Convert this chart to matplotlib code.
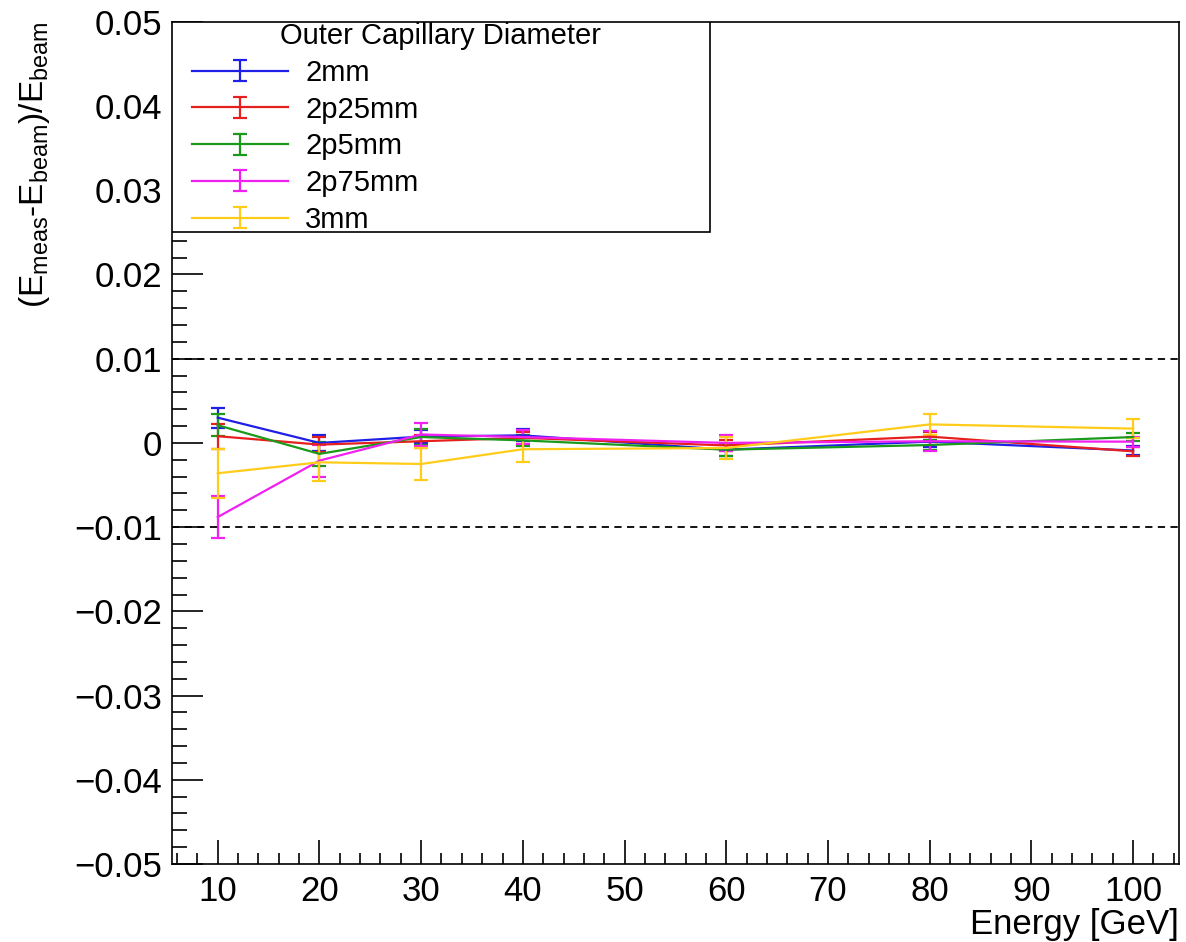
import numpy as np
import matplotlib as mpl
import matplotlib.pyplot as plt
from matplotlib.ticker import MultipleLocator, FuncFormatter
from matplotlib.legend_handler import HandlerErrorbar
from matplotlib.patches import Rectangle

mpl.rcParams['font.family'] = ['Liberation Sans', 'DejaVu Sans']
mpl.rcParams['mathtext.fontset'] = 'custom'
mpl.rcParams['mathtext.rm'] = 'Liberation Sans'
mpl.rcParams['mathtext.it'] = 'Liberation Sans'

## Data
energy = [10, 20, 30, 40, 60, 80, 100]
labels = ['2mm', '2p25mm', '2p5mm', '2p75mm', '3mm']

res_2mm = [0.0030, 0.0000, 0.00075, 0.0009, -0.0008, 0.00015, -0.0009]
err_2mm = [0.0012, 0.0009, 0.0008, 0.0007, 0.0007, 0.0006, 0.0005]

res_2p25mm = [0.0008, -0.0002, 0.0002, 0.0006, -0.0003, 0.00075, -0.0010]
err_2p25mm = [0.0015, 0.0009, 0.0008, 0.0007, 0.0007, 0.0006, 0.0005]

res_2p5mm = [0.0021, -0.0013, 0.0007, 0.0003, -0.0008, -0.00025, 0.0007]
err_2p5mm = [0.0013, 0.0014, 0.0009, 0.0007, 0.0007, 0.0006, 0.0005]

res_2p75mm = [-0.0088, -0.0021, 0.0010, 0.0007, 0.0000, 0.0002, 0.00015]
err_2p75mm = [0.0025, 0.0019, 0.0014, 0.0008, 0.0010, 0.0012, 0.0006]

res_3mm = [-0.0036, -0.0023, -0.0025, -0.00075, -0.0006, 0.0022, 0.0017]
err_3mm = [0.0029, 0.0022, 0.0019, 0.0015, 0.0013, 0.0012, 0.0011]

series = [res_2mm, res_2p25mm, res_2p5mm, res_2p75mm, res_3mm]
errors = [err_2mm, err_2p25mm, err_2p5mm, err_2p75mm, err_3mm]
colors = ['#1f1fe6', '#e61f1f', '#1a991a', '#f020f0', '#ffcc1a']

## Plotting
fig = plt.figure(figsize=(11.86, 9.42), dpi=100)
ax = fig.add_axes([0.145, 0.0828, 0.849, 0.894])

handles = []
for res_i, err_i, col_i, lab_i in zip(series, errors, colors, labels):
    h = ax.errorbar(energy, res_i, yerr=err_i, color=col_i, lw=1.6,
                    elinewidth=1.6, capsize=5, capthick=1.6, label=lab_i)
    handles.append(h)

ax.axhline(0.01, color='k', ls=(0, (4, 3)), lw=1.3)
ax.axhline(-0.01, color='k', ls=(0, (4, 3)), lw=1.3)

ax.set_xlim(5.5, 104.5)
ax.set_ylim(-0.05, 0.05)

ax.xaxis.set_major_locator(MultipleLocator(10))
ax.xaxis.set_minor_locator(MultipleLocator(2))
ax.yaxis.set_major_locator(MultipleLocator(0.01))
ax.yaxis.set_minor_locator(MultipleLocator(0.002))


def yfmt(v, pos):
    if abs(v) < 1e-9:
        return '0'
    return ('%.2f' % v).replace('-', '\u2212')


ax.yaxis.set_major_formatter(FuncFormatter(yfmt))
ax.tick_params(axis='both', which='both', direction='in', labelsize=25,
               top=False, right=False, width=1.2)
ax.tick_params(axis='y', which='major', length=22, pad=7)
ax.tick_params(axis='y', which='minor', length=11)
ax.tick_params(axis='x', which='major', length=17, pad=8)
ax.tick_params(axis='x', which='minor', length=8)
for sp in ax.spines.values():
    sp.set_linewidth(1.2)

ax.set_xlabel('Energy [GeV]', fontsize=25, loc='right', labelpad=0)
ax.set_ylabel(r'(E$_{\mathrm{meas}}$-E$_{\mathrm{beam}}$)/E$_{\mathrm{beam}}$',
              fontsize=24, loc='top', labelpad=16)

# legend box (ROOT style), drawn as a white frame over the axes
box = Rectangle((0.0, 0.7506), 0.534, 0.2494, transform=ax.transAxes,
                facecolor='white', edgecolor='k', lw=1.2, zorder=4)
ax.add_patch(box)

leg = ax.legend(handles=handles, title='Outer Capillary Diameter',
                loc='upper left', bbox_to_anchor=(0.018, 1.0015, 0.498, 0.0),
                mode='expand', fontsize=21, title_fontsize=21,
                frameon=False, borderaxespad=0, handlelength=3.3,
                handletextpad=0.6, labelspacing=0.3, borderpad=0.05,
                alignment='center',
                handler_map={type(handles[0]): HandlerErrorbar(yerr_size=0.36)})
leg.set_zorder(5)

fig.savefig('out.png', dpi=100)
